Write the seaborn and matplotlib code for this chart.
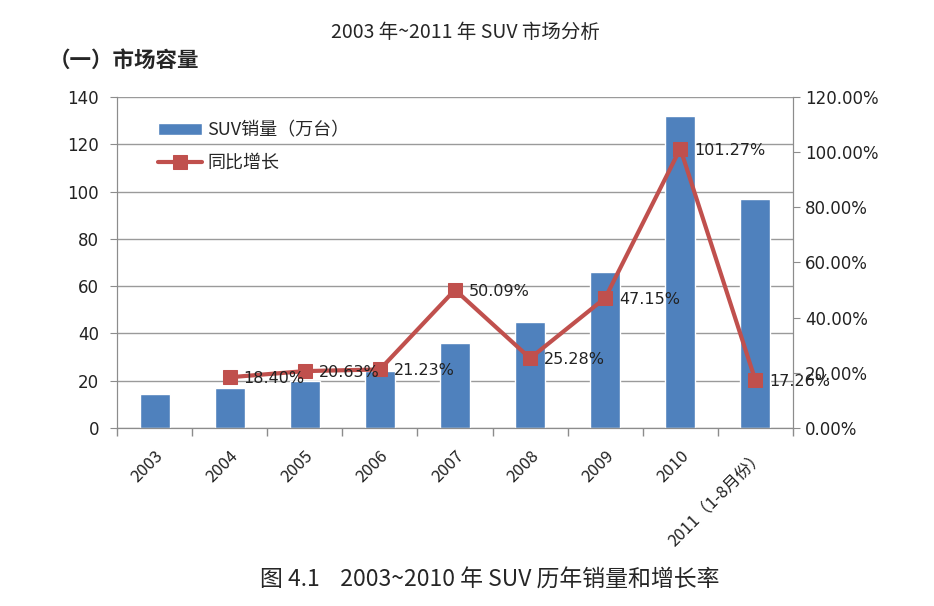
import numpy as np
import pandas as pd
import matplotlib
matplotlib.use('Agg')
import matplotlib.pyplot as plt
import seaborn as sns
from matplotlib.ticker import FuncFormatter

# data
years = ['2003', '2004', '2005', '2006', '2007', '2008', '2009', '2010', '2011（1-8月份）']
sales = [14.5, 16.8, 20.0, 24.1, 35.8, 45.0, 65.9, 132.0, 96.9]
growth = [np.nan, 18.40, 20.63, 21.23, 50.09, 25.28, 47.15, 101.27, 17.26]
growth_labels = ['', '18.40%', '20.63%', '21.23%', '50.09%', '25.28%', '47.15%', '101.27%', '17.26%']

sns.set_style('white')
plt.rcParams['font.family'] = ['DejaVu Sans', 'Noto Sans CJK SC']

blue = '#4F81BD'
red = '#C0504D'
grey = '#8C8C8C'
cjk = ['Noto Sans CJK SC', 'DejaVu Sans']

df = pd.DataFrame({'year': years, 'sales': sales, 'growth': growth})
df['pos'] = np.arange(len(years))

fig = plt.figure(figsize=(9.34, 6.06), dpi=100)
ax = fig.add_axes([0.1253, 0.2937, 0.7237, 0.5463])

sns.barplot(x='year', y='sales', data=df, color=blue, width=0.4, saturation=1,
            ax=ax, label='SUV销量（万台）', zorder=2)
ax.set_ylim(0, 140)
ax.set_yticks(range(0, 141, 20))
ax.set_xlim(-0.5, len(years) - 0.5)
ax.set_xlabel('')
ax.set_ylabel('')
ax.grid(axis='y', color='#9A9A9A', linewidth=1, zorder=0)
ax.set_axisbelow(True)

# ticks between categories
ax.set_xticks(np.arange(len(years)))
ax.set_xticklabels(years, rotation=45, ha='right', rotation_mode='anchor',
                   fontsize=12, color='#222222', family=cjk)
ax.set_xticks(np.arange(-0.5, len(years)), minor=True)
ax.tick_params(axis='x', which='major', bottom=False, length=0, pad=14)
ax.tick_params(axis='x', which='minor', bottom=True, length=6, color=grey, width=1)
ax.tick_params(axis='y', left=True, length=5, pad=8, color=grey, labelsize=12,
               labelcolor='#222222')

for s in ['left', 'bottom', 'right']:
    ax.spines[s].set_color(grey)
ax.spines['top'].set_visible(False)

ax2 = ax.twinx()
sns.lineplot(x='pos', y='growth', data=df, color=red, linewidth=3, marker='s',
             markersize=10, markeredgecolor=red, ax=ax2, label='同比增长', zorder=3)
ax2.set_ylim(0, 120)
ax2.set_yticks(range(0, 121, 20))
ax2.yaxis.set_major_formatter(FuncFormatter(lambda v, p: f'{v:.2f}%'))
ax2.tick_params(axis='y', right=True, length=5, color=grey, labelsize=12,
                labelcolor='#222222')
ax2.set_ylabel('')
ax2.set_xlabel('')
for s in ['left', 'bottom', 'right']:
    ax2.spines[s].set_color(grey)
ax2.spines['top'].set_visible(False)

for p, g, t in zip(df['pos'], growth, growth_labels):
    if t:
        ax2.annotate(t, (p, g), xytext=(10, -1), textcoords='offset points',
                     ha='left', va='center', fontsize=11.5, color='#222222')

# combined legend
h1, l1 = ax.get_legend_handles_labels()
h2, l2 = ax2.get_legend_handles_labels()
if ax.get_legend():
    ax.get_legend().remove()
ax2.legend(h1 + h2, l1 + l2, loc='upper left', bbox_to_anchor=(0.037, 0.975),
           frameon=False, handlelength=2.4, handletextpad=0.3,
           labelspacing=0.8, prop={'family': cjk, 'size': 13})

fig.text(0.498, 0.947, '2003 年~2011 年 SUV 市场分析', ha='center', va='center',
         fontsize=14, family=cjk)
fig.text(0.052, 0.9, '（一）市场容量', ha='left', va='center', fontsize=15.5,
         fontweight='bold', family=cjk)
fig.text(0.524, 0.043, '图 4.1    2003~2010 年 SUV 历年销量和增长率', ha='center',
         va='center', fontsize=16.5, family=cjk)

fig.savefig('out.png', dpi=100)
